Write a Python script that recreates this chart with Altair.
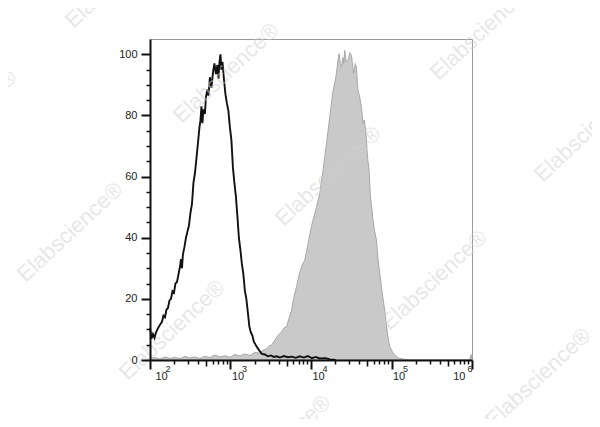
import altair as alt
import pandas as pd

# ---- data (x as log10 of fluorescence intensity, y as % of max) ----
ctrl_log_x = [2.000, 2.019, 2.037, 2.056, 2.074, 2.099, 2.124, 2.149, 2.167, 2.186, 2.205, 2.223,
              2.242, 2.261, 2.279, 2.298, 2.316, 2.335, 2.354, 2.372, 2.385, 2.397, 2.409, 2.428,
              2.447, 2.465, 2.484, 2.502, 2.521, 2.540, 2.558, 2.577, 2.596, 2.614, 2.627, 2.639,
              2.651, 2.664, 2.682, 2.695, 2.713, 2.726, 2.744, 2.763, 2.782, 2.800, 2.819, 2.837,
              2.850, 2.862, 2.875, 2.887, 2.900, 2.918, 2.937, 2.955, 2.974, 2.993, 3.011, 3.030,
              3.048, 3.067, 3.086, 3.104, 3.123, 3.141, 3.160, 3.179, 3.197, 3.216, 3.234, 3.253,
              3.272, 3.290, 3.315, 3.340, 3.365, 3.390, 3.427, 3.464, 3.501, 3.538, 3.576, 3.613,
              3.663, 3.712, 3.762, 3.811, 3.861, 3.911, 3.960, 4.010, 4.060, 4.109, 4.184, 4.233,
              4.308]
ctrl_pct = [10.5, 7.0, 8.5, 7.2, 9.0, 10.4, 11.5, 12.5, 14.5, 14.0, 16.5, 17.0,
            19.5, 20.0, 22.5, 22.0, 25.0, 25.5, 28.0, 30.5, 33.0, 30.0, 34.5, 37.0,
            40.0, 42.0, 44.0, 48.0, 51.0, 58.0, 61.0, 66.0, 71.0, 76.0, 78.5, 83.0,
            77.5, 82.0, 80.5, 86.0, 88.5, 86.5, 92.5, 89.0, 94.0, 97.0, 93.5, 96.5,
            92.0, 97.0, 100.0, 95.0, 97.5, 92.0, 87.0, 84.0, 81.5, 76.0, 72.0, 63.0,
            58.0, 53.5, 47.0, 40.0, 36.0, 31.5, 28.0, 22.5, 20.0, 15.5, 11.0, 9.0,
            8.0, 6.0, 4.8, 3.8, 2.8, 2.0, 1.8, 1.2, 1.5, 1.0, 1.2, 0.8,
            1.3, 0.9, 1.1, 0.7, 1.2, 0.8, 1.3, 0.6, 1.0, 0.5, 0.6, 0.2,
            0.0]

stain_log_x = [2.000, 2.062, 2.124, 2.186, 2.248, 2.310, 2.372, 2.434, 2.496, 2.558, 2.620, 2.682,
               2.744, 2.806, 2.868, 2.931, 2.993, 3.055, 3.117, 3.179, 3.241, 3.303, 3.365, 3.402,
               3.439, 3.476, 3.514, 3.551, 3.588, 3.613, 3.638, 3.663, 3.696, 3.725, 3.758, 3.787,
               3.820, 3.849, 3.882, 3.898, 3.923, 3.944, 3.964, 3.985, 4.006, 4.022, 4.047, 4.068,
               4.088, 4.109, 4.130, 4.150, 4.171, 4.192, 4.212, 4.233, 4.254, 4.274, 4.295, 4.316,
               4.333, 4.349, 4.364, 4.378, 4.395, 4.407, 4.419, 4.438, 4.460, 4.481, 4.502, 4.519,
               4.531, 4.550, 4.565, 4.575, 4.584, 4.605, 4.626, 4.646, 4.661, 4.680, 4.696, 4.708,
               4.721, 4.738, 4.754, 4.770, 4.792, 4.813, 4.833, 4.854, 4.875, 4.895, 4.916, 4.932,
               4.944, 4.959, 4.978, 5.009, 5.040, 5.071, 5.102, 5.164, 5.226, 5.970, 5.989, 6.000]
stain_pct = [0.5, 0.8, 0.3, 1.0, 0.5, 0.9, 0.4, 1.2, 0.6, 1.0, 0.5, 1.2,
             0.8, 1.6, 1.0, 1.4, 0.9, 1.8, 1.3, 2.0, 1.5, 2.5, 2.2, 3.2,
             3.5, 4.5, 5.0, 6.5, 8.0, 8.7, 9.2, 10.5, 10.9, 13.5, 16.3, 20.5,
             24.0, 27.5, 30.5, 31.5, 32.7, 35.5, 38.1, 41.0, 43.6, 45.5, 47.9, 50.0,
             52.3, 54.5, 58.5, 62.1, 66.5, 70.8, 75.0, 79.5, 84.0, 88.2, 90.5, 93.7,
             97.5, 100.2, 97.0, 95.8, 99.0, 97.0, 101.3, 97.5, 98.0, 100.5, 99.7, 96.0,
             93.7, 97.0, 95.8, 91.0, 88.2, 86.0, 82.8, 77.3, 78.5, 75.2, 68.6, 65.0,
             62.1, 53.4, 50.0, 45.8, 42.0, 39.2, 32.7, 28.5, 24.0, 20.0, 16.3, 12.5,
             9.8, 7.0, 4.4, 2.8, 1.6, 0.9, 0.5, 0.2, 0.0, 0.0, 1.8, 0.0]

x_major = [1e2, 1e3, 1e4, 1e5, 1e6]
x_mid = [5e2, 5e3, 5e4, 5e5]
x_minor = [k * 10 ** n for n in range(2, 6) for k in (2, 3, 4, 6, 7, 8, 9)]
y_major = [0, 20, 40, 60, 80, 100]
y_minor = [5, 10, 15, 25, 30, 35, 45, 50, 55, 65, 70, 75, 85, 90, 95]

watermark_text = "Elabscience\u00ae"
# watermark centres, pixels relative to plot origin (decoration only)
watermark_pos = [(-32, -61), (-186, 81), (76, 34), (333, -9), (178, 137), (-80, 193),
                 (437, 93), (22, 291), (284, 241), (388, 339), (128, 406)]

ctrl = pd.DataFrame({"fl": [10 ** d for d in ctrl_log_x], "pct": ctrl_pct})
stain = pd.DataFrame({"fl": [10 ** d for d in stain_log_x], "pct": stain_pct})

FONT = "Liberation Sans"
xscale = alt.Scale(type="log", domain=[100, 1e6], nice=False)
yscale = alt.Scale(domain=[0, 105], nice=False, zero=True)

common = dict(grid=False, title=None, zindex=1, labelFlush=False, labelOverlap=False)

ax_x_major = alt.Axis(orient="bottom", values=x_major, tickSize=9, tickWidth=2, tickColor="#111",
                      domainColor="#111", domainWidth=2, labelExpr="'10'", labelFont=FONT,
                      labelFontSize=11, labelColor="#222", labelBaseline="top", labelPadding=1,
                      labelAlign={"condition": {"test": "datum.value >= 999999", "value": "right"},
                                  "value": "left"},
                      labelOffset={"condition": [{"test": "datum.value <= 100.5", "value": 5},
                                                 {"test": "datum.value >= 999999", "value": -7}],
                                   "value": 1},
                      **common)
ax_x_exp = alt.Axis(orient="bottom", values=x_major, tickSize=0, tickWidth=0, domain=False,
                    labelExpr="'' + round(log(datum.value) / LN10)", labelFont=FONT,
                    labelFontSize=9, labelColor="#222", labelBaseline="top", labelPadding=4,
                    labelAlign={"condition": {"test": "datum.value >= 999999", "value": "right"},
                                "value": "left"},
                    labelOffset={"condition": [{"test": "datum.value <= 100.5", "value": 15},
                                               {"test": "datum.value >= 999999", "value": 0}],
                                 "value": 11},
                    **common)
ax_x_mid = alt.Axis(orient="bottom", values=x_mid, tickSize=6, tickWidth=1.6, tickColor="#111",
                    domain=False, labels=False, **common)
ax_x_minor = alt.Axis(orient="bottom", values=x_minor, tickSize=4, tickWidth=1.5, tickColor="#111",
                      domain=False, labels=False, **common)
ax_y_major = alt.Axis(orient="left", values=y_major, tickSize=9, tickWidth=2, tickColor="#111",
                      domainColor="#111", domainWidth=2, labelFont=FONT, labelFontSize=11,
                      labelColor="#222", labelPadding=4, **common)
ax_y_minor = alt.Axis(orient="left", values=y_minor, tickSize=4, tickWidth=1.5, tickColor="#111",
                      domain=False, labels=False, **common)

area = alt.Chart(stain).mark_area(color="#c9c9c9", stroke="#a8a8a8", strokeWidth=1).encode(
    x=alt.X("fl:Q", scale=xscale, axis=ax_x_major),
    y=alt.Y("pct:Q", scale=yscale, axis=ax_y_major),
)
line = alt.Chart(ctrl).mark_line(color="#111111", strokeWidth=1.9).encode(
    x=alt.X("fl:Q", scale=xscale, axis=ax_x_minor),
    y=alt.Y("pct:Q", scale=yscale, axis=ax_y_minor),
)
dummy1 = alt.Chart(ctrl).mark_line(opacity=0).encode(
    x=alt.X("fl:Q", scale=xscale, axis=ax_x_exp),
    y=alt.Y("pct:Q", scale=yscale, axis=None),
)
dummy2 = alt.Chart(ctrl).mark_line(opacity=0).encode(
    x=alt.X("fl:Q", scale=xscale, axis=ax_x_mid),
    y=alt.Y("pct:Q", scale=yscale, axis=None),
)

marks = []
for (px, py) in watermark_pos:
    marks.append(
        alt.Chart(alt.Data(values=[{}])).mark_text(
            text=watermark_text, font=FONT, fontSize=22, fontWeight="normal", angle=317,
            color="#d0d0d0", opacity=0.5, align="center", baseline="middle",
        ).encode(x=alt.value(px), y=alt.value(py))
    )

chart = alt.layer(area, line, dummy1, dummy2, *marks).resolve_axis(
    x="independent", y="independent"
).properties(
    width=322, height=321,
    autosize=alt.AutoSizeParams(type="none"),
    padding={"left": 142, "top": 31, "right": 120, "bottom": 59},
    background="white",
).configure_view(stroke="#9a9a9a", strokeWidth=1)

chart.save("out.html", embed_options={"renderer": "svg", "actions": False})
